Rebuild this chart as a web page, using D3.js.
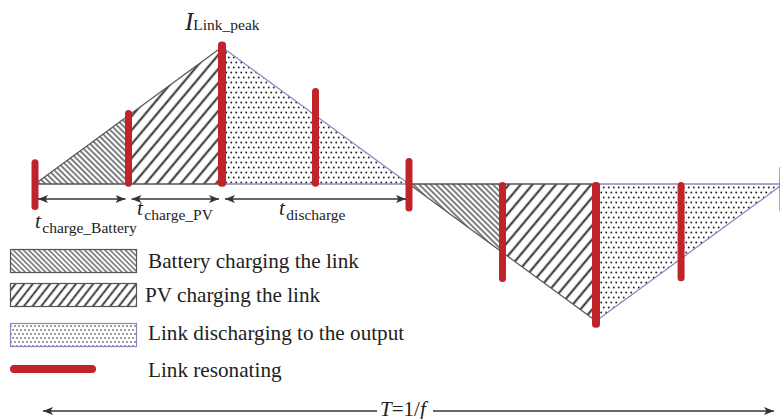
<!DOCTYPE html>
<html>
<head>
<meta charset="utf-8">
<script src="https://cdn.jsdelivr.net/npm/d3@7"></script>
<style>
  html, body { margin: 0; padding: 0; background: #fff; }
  svg { display: block; }
  text { font-family: "Liberation Serif", "Times New Roman", serif; fill: #222; }
</style>
</head>
<body>
<svg id="chart" width="780" height="419"></svg>
<script>
// Link current over one switching period (time in sub-interval units, current normalised to the peak)
const waveT = [0, 2, 4, 6, 8];
const waveI = [0, 1, 0, -1, 0];

// Operating phases of the link
const phaseKind  = ["battery", "pv", "discharge", "battery", "pv", "discharge"];
const phaseStart = [0, 1, 2, 4, 5, 6];
const phaseEnd   = [1, 2, 4, 5, 6, 8];

// Resonant transitions: time and vertical extent of each marker
const resT  = [0, 1, 2, 3, 4, 5, 6, 6.91, 8];
const resHi = [0.18, 0.54, 1.04, 0.70, 0.19, 0.015, 0.015, 0.015, 0.14];
const resLo = [-0.19, -0.02, -0.02, -0.02, -0.20, -0.715, -1.05, -0.71, -0.21];

// Interval annotations under the positive half-cycle
const spanStart = [0, 1, 2];
const spanEnd   = [1, 2, 4];
const spanSub   = ["charge_Battery", "charge_PV", "discharge"];

// Legend entries
const legendKind  = ["battery", "pv", "discharge", "resonance"];
const legendLabel = ["Battery charging the link", "PV charging the link",
                     "Link discharging to the output", "Link resonating"];

const RED = "#c1232b", PURPLE = "#8f83c2", GREY = "#555", INK = "#222";

const svg = d3.select("#chart");
const x = d3.scaleLinear().domain([0, 8]).range([35, 783]);
const y = d3.scaleLinear().domain([-1, 1]).range([321, 47]);
const current = d3.scaleLinear().domain(waveT).range(waveI);

// ---- fill patterns ----
const defs = svg.append("defs");
function hatch(id, spacing, width, angle) {
  const p = defs.append("pattern").attr("id", id)
    .attr("patternUnits", "userSpaceOnUse")
    .attr("width", spacing).attr("height", spacing)
    .attr("patternTransform", `rotate(${angle})`);
  p.append("line").attr("x1", spacing / 2).attr("x2", spacing / 2)
    .attr("y1", -1).attr("y2", spacing + 1)
    .attr("stroke", INK).attr("stroke-width", width);
}
function dots(id, w, r) {
  const p = defs.append("pattern").attr("id", id)
    .attr("patternUnits", "userSpaceOnUse")
    .attr("width", w).attr("height", 2 * w);
  p.append("circle").attr("cx", w / 4).attr("cy", w / 2).attr("r", r).attr("fill", INK);
  p.append("circle").attr("cx", 3 * w / 4).attr("cy", 3 * w / 2).attr("r", r).attr("fill", INK);
}
hatch("fill-battery", 4, 1.15, -45);
hatch("fill-pv", 9, 1.9, 40);
dots("fill-discharge", 5, 0.95);
hatch("leg-battery", 3.6, 1.0, -45);
hatch("leg-pv", 6.8, 1.7, 38);
dots("leg-discharge", 4, 0.8);

// ---- shaded phase regions ----
const plot = svg.append("g");
const regions = phaseKind.map((k, i) => {
  const t0 = phaseStart[i], t1 = phaseEnd[i];
  return { kind: k, pts: [[t0, 0], [t1, 0], [t1, current(t1)], [t0, current(t0)]] };
});
const line = d3.line().x(d => x(d[0])).y(d => y(d[1]));
plot.selectAll("path.region").data(regions).join("path")
  .attr("class", "region")
  .attr("d", d => line(d.pts) + "Z")
  .attr("fill", d => `url(#fill-${d.kind})`)
  .attr("stroke", "none");

// ---- outlines: baseline and waveform edges ----
regions.forEach(r => {
  const col = r.kind === "discharge" ? PURPLE : GREY;
  const [a, b, c, d] = r.pts;
  plot.append("path").attr("d", line([a, b])).attr("stroke", col)
    .attr("stroke-width", r.kind === "discharge" ? 1.3 : 1.7).attr("fill", "none");
  plot.append("path").attr("d", line([d, c])).attr("stroke", col)
    .attr("stroke-width", 1.2).attr("fill", "none");
});

// ---- resonance markers ----
plot.selectAll("rect.res").data(resT).join("rect")
  .attr("class", "res")
  .attr("x", (t, i) => x(t) - (i === 2 || i === 6 ? 4 : 3.5))
  .attr("width", (t, i) => (i === 2 || i === 6 ? 8 : 7))
  .attr("y", (t, i) => y(resHi[i]))
  .attr("height", (t, i) => y(resLo[i]) - y(resHi[i]))
  .attr("rx", 3.5)
  .attr("fill", RED);

// ---- interval arrows ----
defs.append("marker").attr("id", "head")
  .attr("viewBox", "0 0 10 8").attr("refX", 10).attr("refY", 4)
  .attr("markerWidth", 10).attr("markerHeight", 8)
  .attr("markerUnits", "userSpaceOnUse").attr("orient", "auto-start-reverse")
  .append("path").attr("d", "M0,0 L10,4 L0,8 L2.5,4 Z").attr("fill", "#333");

const arrowY = 199;
spanStart.forEach((t0, i) => {
  svg.append("line")
    .attr("x1", x(t0) + 3).attr("x2", x(spanEnd[i]) - 3)
    .attr("y1", arrowY).attr("y2", arrowY)
    .attr("stroke", "#333").attr("stroke-width", 1.5)
    .attr("marker-start", "url(#head)").attr("marker-end", "url(#head)");
});

// interval labels
const spanLabelPos = [[35, 228], [137, 215], [279, 215]];
spanSub.forEach((s, i) => {
  const t = svg.append("text").attr("x", spanLabelPos[i][0]).attr("y", spanLabelPos[i][1]);
  t.append("tspan").attr("font-style", "italic").attr("font-size", 21).text("t");
  t.append("tspan").attr("font-size", 15.5).attr("dx", 1.5).attr("dy", 5).text(s);
});

// peak label
const pk = svg.append("text").attr("x", 185).attr("y", 30);
pk.append("tspan").attr("font-style", "italic").attr("font-size", 25).text("I");
pk.append("tspan").attr("font-size", 15.5).attr("dy", 0).text("Link_peak");

// ---- legend ----
const legTop = [249, 283, 323, 369];
const legTextY = [268, 302, 340, 377];
const leg = svg.append("g");
legendKind.forEach((k, i) => {
  if (k === "resonance") {
    leg.append("line").attr("x1", 14).attr("x2", 92)
      .attr("y1", legTop[i]).attr("y2", legTop[i])
      .attr("stroke", RED).attr("stroke-width", 8).attr("stroke-linecap", "round");
  } else {
    leg.append("rect").attr("x", 10.5).attr("y", legTop[i] + 0.5)
      .attr("width", 126).attr("height", 23)
      .attr("fill", `url(#leg-${k})`)
      .attr("stroke", k === "discharge" ? PURPLE : GREY).attr("stroke-width", 1.2);
  }
  leg.append("text").attr("x", i === 1 ? 145 : 148).attr("y", legTextY[i])
    .attr("font-size", 21.2).text(legendLabel[i]);
});

// ---- period arrow ----
const periodY = 411;
svg.append("line").attr("x1", 43).attr("x2", 377).attr("y1", periodY).attr("y2", periodY)
  .attr("stroke", "#333").attr("stroke-width", 1.3).attr("marker-start", "url(#head)");
svg.append("line").attr("x1", 433).attr("x2", 774).attr("y1", periodY).attr("y2", periodY)
  .attr("stroke", "#333").attr("stroke-width", 1.3).attr("marker-end", "url(#head)");
const per = svg.append("text").attr("x", 380).attr("y", 415.5).attr("font-size", 21);
per.append("tspan").attr("font-style", "italic").text("T");
per.append("tspan").text("=1/");
per.append("tspan").attr("font-style", "italic").text("f");
</script>
</body>
</html>
